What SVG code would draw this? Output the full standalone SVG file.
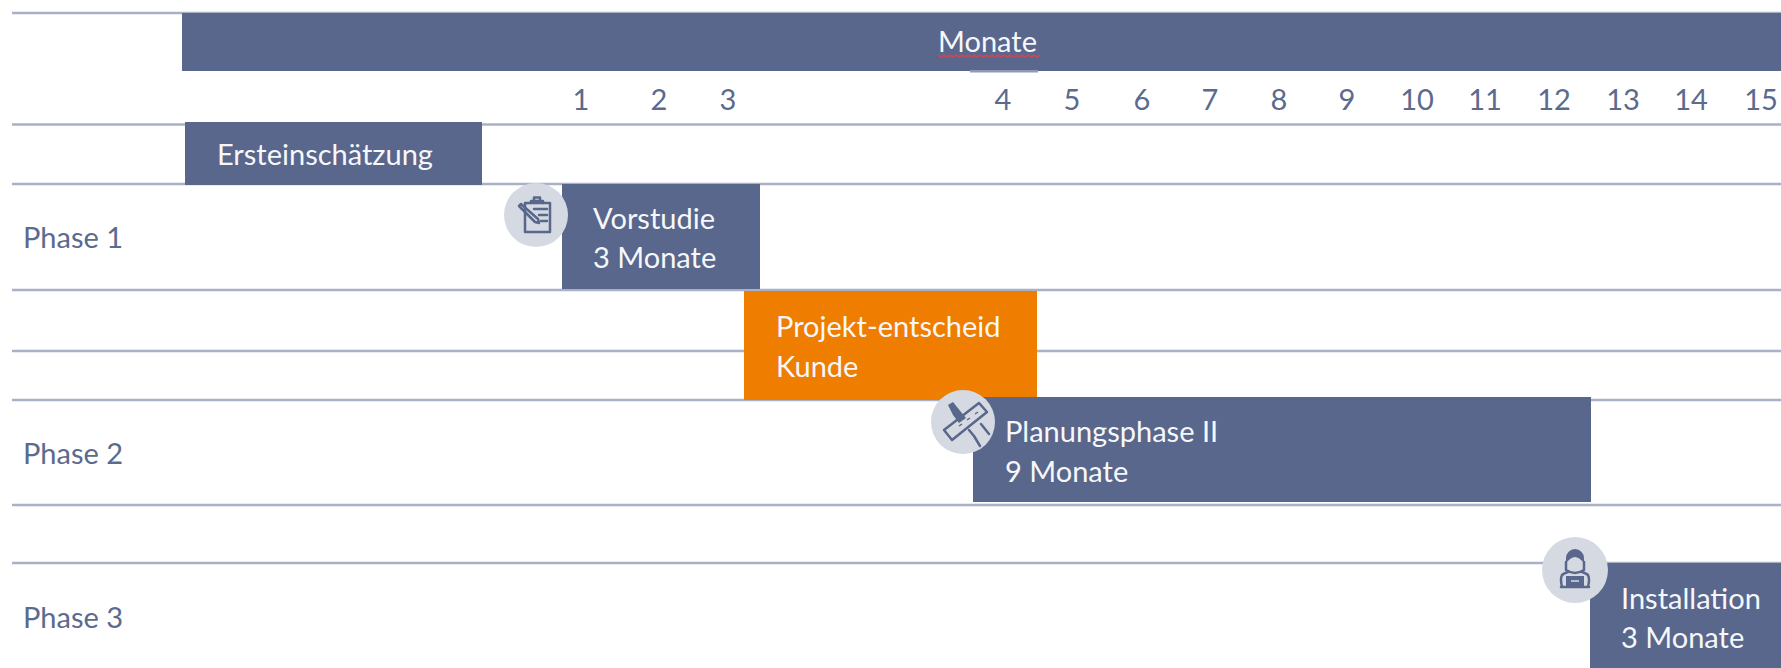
<svg xmlns="http://www.w3.org/2000/svg" width="1781" height="668" viewBox="0 0 1781 668">
<style>
text{font-family:Lato,"Liberation Sans",sans-serif;font-size:29px}
.w{fill:#f6f7fa}.n{fill:#5b6a8d;text-anchor:middle}.p{fill:#5b6a8d}
.b{fill:#58678b}.c{fill:#d5d9e1}
.l{stroke:#a9b1c6;stroke-width:2.500;fill:none}
.i{fill:none;stroke:#58678b;stroke-width:2.500;stroke-linejoin:round;stroke-linecap:round}
.t{stroke:#58678b;stroke-width:1.500;fill:none}
</style>
<rect width="1781" height="668" fill="#fff"/>
<g id="grid" class="connectors">
<path class="l" d="M12 13H1781M12 124.500H1781M12 184H1781M12 290H1781M12 351H1781M12 400H1781M12 505H1781M12 563H1781"/>
</g>
<g id="header"><rect class="b" x="182" y="13" width="1599" height="58"/>
<rect x="970" y="70" width="68" height="2.500" fill="#8e99b3"/>
<text class="w" x="938" y="52">Monate</text>
<path d="M938 55l3 2 3-2 3 2 3-2 3 2 3-2 3 2 3-2 3 2 3-2 3 2 3-2 3 2 3-2 3 2 3-2 3 2 3-2 3 2 3-2 3 2 3-2 3 2 3-2 3 2 3-2 3 2 3-2 3 2 3-2 3 2 3-2 3 2 3-2" fill="none" stroke="#c8475a" stroke-width="1.800"/></g>
<g id="months">
<text class="n" x="581" y="110">1</text><text class="n" x="659" y="110">2</text><text class="n" x="728" y="110">3</text><text class="n" x="1003" y="110">4</text><text class="n" x="1072" y="110">5</text><text class="n" x="1142" y="110">6</text><text class="n" x="1210" y="110">7</text><text class="n" x="1279" y="110">8</text><text class="n" x="1347" y="110">9</text><text class="n" x="1417" y="110">10</text><text class="n" x="1485" y="110">11</text><text class="n" x="1554" y="110">12</text><text class="n" x="1623" y="110">13</text><text class="n" x="1691" y="110">14</text><text class="n" x="1761" y="110">15</text>
</g>
<g id="phase1"><text class="p" x="23" y="248">Phase 1</text></g>
<g id="phase2"><text class="p" x="23" y="464">Phase 2</text></g>
<g id="phase3"><text class="p" x="23" y="628">Phase 3</text></g>
<g id="ersteinschaetzung"><rect class="b" x="185" y="122" width="297" height="63"/><text class="w" x="217" y="165">Ersteinschätzung</text></g>
<g id="vorstudie"><rect class="b" x="562" y="184" width="198" height="105"/>
<text class="w" x="593" y="229">Vorstudie</text><text class="w" x="593" y="268">3 Monate</text></g>
<g id="vorstudie-icon"><circle class="c" cx="536" cy="215" r="32"/>
<rect class="i" x="525" y="203" width="25" height="29"/><path class="i" d="M531 203v-2h12v2M534 200v-2.500h6v2.500M534 209h13M539 215h8M541 221h6"/><path class="i" d="M519 206l2-2 17 15 1 4-4-1z"/></g>
<g id="entscheid"><rect x="744" y="291" width="293" height="109" fill="#ef7d00"/>
<text class="w" x="776" y="337">Projekt-entscheid</text><text class="w" x="776" y="377">Kunde</text></g>
<g id="planung"><rect class="b" x="973" y="397" width="618" height="105"/>
<text class="w" x="1005" y="442">Planungsphase II</text><text class="w" x="1005" y="482">9 Monate</text></g>
<g id="planung-icon"><circle class="c" cx="963" cy="422" r="32"/>
<path d="M948 405l5-3 8 10 5 6-7 5-6-8z" fill="#58678b"/><path class="i" stroke-width="2" d="M969 430l5 6 6 10M981 424l8 10"/>
<path class="i" stroke-width="3.500" d="M979 403l8 9-35 28-8-10z"/><path class="t" stroke-width="3" d="M959 426l3-2M967 420l3-2M975 414l3-2"/></g>
<g id="installation"><rect class="b" x="1590" y="563" width="191" height="105"/>
<text class="w" x="1621" y="609">Installation</text><text class="w" x="1621" y="648">3 Monate</text></g>
<g id="installation-icon"><circle class="c" cx="1575" cy="570" r="33"/>
<path d="M1566 563v-5a9 9 0 0 1 18 0v5q-5-6-9-6t-9 6z" fill="#58678b"/><path class="i" d="M1566 562v8q9 6 18 0v-8"/>
<path class="i" d="M1562 587q-2-8 0-12 2-2 6-3M1588 587q2-8 0-12-2-2-6-3M1561 587h28"/><rect x="1566" y="576" width="18" height="10" fill="#58678b"/><path d="M1571 581h8" stroke="#d5d9e1" stroke-width="1.500"/></g>
</svg>
